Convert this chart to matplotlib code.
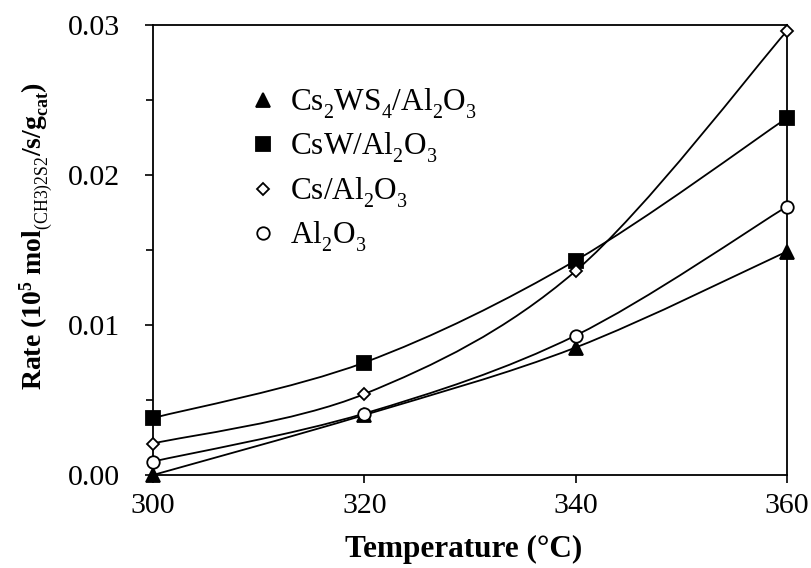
import matplotlib
matplotlib.use("Agg")
import matplotlib.pyplot as plt
import numpy as np
from matplotlib.path import Path
from matplotlib.patches import PathPatch
from matplotlib.ticker import MultipleLocator, FormatStrFormatter

try:
    import matplotlib._mathtext as _mt
    _mt.SHRINK_FACTOR = 0.64
    _mt.FontConstantsBase.sub1 = 0.55
except Exception:
    pass

plt.rcParams['font.family'] = ['Liberation Serif', 'DejaVu Serif']
plt.rcParams['mathtext.fontset'] = 'custom'
plt.rcParams['mathtext.rm'] = 'Liberation Serif'
plt.rcParams['mathtext.bf'] = 'Liberation Serif:bold'
plt.rcParams['mathtext.it'] = 'Liberation Serif:italic'

temperature = [300, 320, 340, 360]
cs2ws4 = [0.0000, 0.0040, 0.0085, 0.0149]
csw = [0.0038, 0.0075, 0.0143, 0.0238]
cs = [0.0021, 0.0054, 0.0136, 0.0296]
al2o3 = [0.0009, 0.0041, 0.0093, 0.0179]

labels = [r"Cs$_2$WS$_4$/Al$_2$O$_3$", r"CsW/Al$_2$O$_3$", r"Cs/Al$_2$O$_3$", r"Al$_2$O$_3$"]
series = [cs2ws4, csw, cs, al2o3]
markers = ['^', 's', 'D', 'o']
mfc = ['black', 'black', 'white', 'white']
msize = [9.5, 10, 6.5, 9]

fig = plt.figure(figsize=(8.11, 5.68), dpi=100)
ax = fig.add_axes([0.1887, 0.1637, 0.7816, 0.7923])


def smooth_path(x, y):
    x = np.asarray(x, float); y = np.asarray(y, float)
    n = len(x)
    verts = [(x[0], y[0])]
    codes = [Path.MOVETO]
    for i in range(n - 1):
        ip = max(i - 1, 0); inx = min(i + 2, n - 1)
        c1 = (x[i] + (x[i + 1] - x[ip]) / 6, y[i] + (y[i + 1] - y[ip]) / 6)
        c2 = (x[i + 1] - (x[inx] - x[i]) / 6, y[i + 1] - (y[inx] - y[i]) / 6)
        verts += [c1, c2, (x[i + 1], y[i + 1])]
        codes += [Path.CURVE4] * 3
    return Path(verts, codes)


for ys, m, fc, ms, lab in zip(series, markers, mfc, msize, labels):
    ax.add_patch(PathPatch(smooth_path(temperature, ys), fill=False, lw=1.3,
                           edgecolor='black', zorder=2, clip_on=False))
    ax.plot(temperature, ys, linestyle='none', marker=m, markersize=ms,
            markerfacecolor=fc, markeredgecolor='black', markeredgewidth=1.3,
            label=lab, zorder=3, clip_on=False)

ax.set_xlim(300, 360)
ax.set_ylim(0, 0.03)
ax.set_xticks([300, 320, 340, 360])
ax.yaxis.set_major_locator(MultipleLocator(0.01))
ax.yaxis.set_minor_locator(MultipleLocator(0.005))
ax.yaxis.set_major_formatter(FormatStrFormatter('%.2f'))
ax.tick_params(axis='both', which='major', direction='out', length=6, width=1.2,
               labelsize=21.5)
ax.tick_params(axis='x', which='major', pad=7)
ax.tick_params(axis='y', which='major', pad=18)
ax.tick_params(axis='y', which='minor', direction='out', length=5, width=1.2)
for s in ax.spines.values():
    s.set_linewidth(1.3)

ax.set_xlabel('Temperature (°C)', fontsize=22.5, fontweight='bold')
ax.xaxis.set_label_coords(0.49, -0.133)
ax.set_ylabel(r"$\mathbf{Rate\ (10^5\ mol}_{\mathrm{(CH3)2S2}}\mathbf{/s/g}_{\mathbf{cat}}\mathbf{)}$",
              fontsize=20)
ax.yaxis.set_label_coords(-0.152, 0.53)

leg = ax.legend(loc='upper left', bbox_to_anchor=(0.134, 0.89), frameon=False,
                fontsize=22.5, handlelength=0.8, handletextpad=0.45, labelspacing=0.32,
                borderaxespad=0)

fig.savefig('out.png', dpi=100)
